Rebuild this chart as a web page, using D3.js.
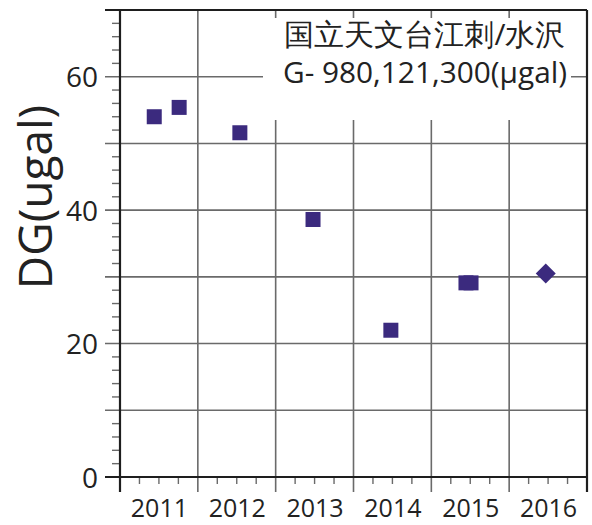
<!DOCTYPE html>
<html>
<head>
<meta charset="utf-8">
<script src="https://cdn.jsdelivr.net/npm/d3@7/dist/d3.min.js"></script>
<style>
  html, body { margin: 0; padding: 0; background: #fff; }
  svg { display: block; }
  text { font-family: "Open Sans", "Noto Sans", sans-serif; fill: #222; }
</style>
</head>
<body>
<svg id="chart" width="592" height="525"></svg>
<script>
// ---- data ----
const years = [2011, 2012, 2013, 2014, 2015, 2016];
const yearLabels = ["2011", "2012", "2013", "2014", "2015", "2016"];
const squareX = [2011.44, 2011.76, 2012.54, 2013.48, 2014.48, 2015.445, 2015.51];
const squareY = [54.0, 55.4, 51.6, 38.6, 22.0, 29.1, 29.1];
const diamondX = [2016.47];
const diamondY = [30.5];
const yTickLabels = [0, 20, 40, 60];
const yGrid = [10, 20, 30, 40, 50, 60, 70];
const yMinor = [2,4,6,8,12,14,16,18,22,24,26,28,32,34,36,38,42,44,46,48,52,54,56,58,62,64,66,68];
const titleLines = ["国立天文台江刺/水沢", "G- 980,121,300(μgal)"];
const yTitle = "DG(ugal)";

const svg = d3.select("#chart");
const x = d3.scaleLinear().domain([2011, 2017]).range([120, 587]);
const y = d3.scaleLinear().domain([0, 70]).range([477, 10]);

const gridColor = "#6a6a6a";
const axisColor = "#1e1e1e";
const pointColor = "#3b2a7e";

// vertical grid lines (year boundaries)
const vBounds = years.slice(1);
svg.append("g").selectAll("line").data(vBounds).join("line")
  .attr("x1", d => x(d)).attr("x2", d => x(d))
  .attr("y1", y(70)).attr("y2", 492)
  .attr("stroke", gridColor).attr("stroke-width", 1.6);

// horizontal grid lines
svg.append("g").selectAll("line").data(yGrid.filter(d => d < 70)).join("line")
  .attr("x1", 105).attr("x2", x(2017))
  .attr("y1", d => y(d)).attr("y2", d => y(d))
  .attr("stroke", gridColor).attr("stroke-width", 1.6);

// white box behind title
svg.append("rect").attr("x", 263).attr("y", 18).attr("width", 308).attr("height", 102).attr("fill", "#fff");

// minor y ticks
svg.append("g").selectAll("line").data(yMinor).join("line")
  .attr("x1", 112).attr("x2", x(2011))
  .attr("y1", d => y(d)).attr("y2", d => y(d))
  .attr("stroke", gridColor).attr("stroke-width", 1.4);

// minor x ticks (quarters)
const xMinor = [];
years.forEach(yr => { [0.25, 0.5, 0.75].forEach(f => xMinor.push(yr + f)); });
svg.append("g").selectAll("line").data(xMinor).join("line")
  .attr("x1", d => x(d)).attr("x2", d => x(d))
  .attr("y1", y(0)).attr("y2", 484)
  .attr("stroke", gridColor).attr("stroke-width", 1.4);

// frame: top, bottom, left, right
svg.append("line").attr("x1", 105).attr("x2", x(2017)).attr("y1", y(70)).attr("y2", y(70))
  .attr("stroke", axisColor).attr("stroke-width", 2);
svg.append("line").attr("x1", 105).attr("x2", x(2017)).attr("y1", y(0)).attr("y2", y(0))
  .attr("stroke", axisColor).attr("stroke-width", 2.2);
svg.append("line").attr("x1", x(2011)).attr("x2", x(2011)).attr("y1", y(70)).attr("y2", 492)
  .attr("stroke", axisColor).attr("stroke-width", 2.2);
svg.append("line").attr("x1", x(2017)).attr("x2", x(2017)).attr("y1", y(70)).attr("y2", 492)
  .attr("stroke", axisColor).attr("stroke-width", 2.2);

// y tick labels via axis
const yAxis = d3.axisLeft(y).tickValues(yTickLabels).tickSize(0).tickPadding(0).tickFormat(d3.format("d"));
const gy = svg.append("g").attr("transform", "translate(98,0)").call(yAxis);
gy.select(".domain").remove();
gy.selectAll("text").attr("font-size", 28).attr("font-family", "Open Sans").attr("fill", "#2a2a2a").attr("dy", "0.36em");

// x labels via axis at mid-year
const xAxis = d3.axisBottom(x).tickValues(years.map(d => d + 0.5)).tickSize(0).tickPadding(0)
  .tickFormat((d, i) => yearLabels[i]);
const gx = svg.append("g").attr("transform", "translate(0,499)").call(xAxis);
gx.select(".domain").remove();
gx.selectAll("text").attr("font-size", 25).attr("font-family", "Open Sans").attr("fill", "#2a2a2a").attr("dy", "0.71em");

// title
svg.append("text").attr("x", 425).attr("y", 45).attr("text-anchor", "middle")
  .attr("font-family", "Noto Sans CJK JP").attr("font-size", 30).attr("fill", "#2a2a2a")
  .text(titleLines[0]);
svg.append("text").attr("x", 425).attr("y", 83).attr("text-anchor", "middle")
  .attr("font-size", 29).attr("fill", "#2a2a2a")
  .attr("textLength", 284).attr("lengthAdjust", "spacingAndGlyphs")
  .text(titleLines[1]);

// y axis title
svg.append("text").attr("transform", "translate(52,197) rotate(-90)").attr("text-anchor", "middle")
  .attr("font-size", 46).attr("fill", "#111").text(yTitle);

// points
const sq = 15;
svg.append("g").selectAll("rect").data(squareX.map((d, i) => [d, squareY[i]])).join("rect")
  .attr("x", d => x(d[0]) - sq / 2).attr("y", d => y(d[1]) - sq / 2)
  .attr("width", sq).attr("height", sq).attr("fill", pointColor);

const diamond = d3.symbol().type(d3.symbolSquare).size(200);
svg.append("g").selectAll("path").data(diamondX.map((d, i) => [d, diamondY[i]])).join("path")
  .attr("d", diamond)
  .attr("transform", d => `translate(${x(d[0])},${y(d[1])}) rotate(45)`)
  .attr("fill", pointColor);
</script>
</body>
</html>
